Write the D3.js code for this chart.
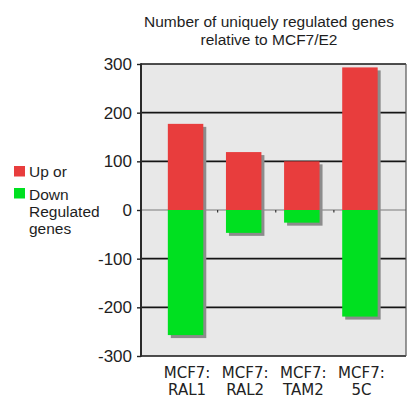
<!DOCTYPE html>
<html>
<head>
<meta charset="utf-8">
<script src="https://cdn.jsdelivr.net/npm/d3@7"></script>
<style>
  html, body { margin: 0; padding: 0; background: #ffffff; }
  svg { display: block; }
</style>
</head>
<body>
<svg id="chart" width="408" height="398"></svg>
<script>
// Gene counts per treatment relative to MCF7/E2
const categories = ["MCF7: RAL1", "MCF7: RAL2", "MCF7: TAM2", "MCF7: 5C"];
const upRegulated = [177, 119, 100, 293];
const downRegulated = [-257, -47, -26, -219];
const yTicks = [300, 200, 100, 0, -100, -200, -300];
const titleLines = ["Number of uniquely regulated genes", "relative to MCF7/E2"];
const legendItems = [
  { label: "Up or", color: "#e83d3d" },
  { label: "Down", color: "#00e020" }
];
const legendExtra = ["Regulated", "genes"];

const svg = d3.select("#chart");
const plot = { left: 141, right: 406, top: 64, bottom: 356 };

const y = d3.scaleLinear().domain([-300, 300]).range([plot.bottom, plot.top]);
const x = d3.scaleBand()
  .domain(categories)
  .range([156.5, 389])
  .paddingInner(0.39)
  .paddingOuter(0.195);

const shadow = 3;
const labelFont = "'Liberation Sans', Arial, sans-serif";

// plot background
svg.append("rect")
  .attr("x", plot.left).attr("y", plot.top)
  .attr("width", plot.right - plot.left).attr("height", plot.bottom - plot.top)
  .attr("fill", "#e8e8e8");

// horizontal grid lines
svg.append("g").selectAll("line")
  .data(yTicks.filter(d => d !== 0))
  .join("line")
  .attr("x1", plot.left).attr("x2", plot.right)
  .attr("y1", d => y(d)).attr("y2", d => y(d))
  .attr("stroke", "#151515").attr("stroke-width", 1.6);

// zero line
svg.append("line")
  .attr("x1", plot.left).attr("x2", plot.right)
  .attr("y1", y(0)).attr("y2", y(0))
  .attr("stroke", "#7a7a7a").attr("stroke-width", 1);

// bar shadows
svg.append("g").selectAll("rect")
  .data(categories)
  .join("rect")
  .attr("x", d => x(d) + shadow)
  .attr("y", (d, i) => y(upRegulated[i]) + shadow)
  .attr("width", x.bandwidth())
  .attr("height", (d, i) => y(downRegulated[i]) - y(upRegulated[i]))
  .attr("fill", "#8c8c8c");

// up-regulated bars
svg.append("g").selectAll("rect")
  .data(categories)
  .join("rect")
  .attr("x", d => x(d))
  .attr("y", (d, i) => y(upRegulated[i]))
  .attr("width", x.bandwidth())
  .attr("height", (d, i) => y(0) - y(upRegulated[i]))
  .attr("fill", legendItems[0].color);

// down-regulated bars
svg.append("g").selectAll("rect")
  .data(categories)
  .join("rect")
  .attr("x", d => x(d))
  .attr("y", y(0))
  .attr("width", x.bandwidth())
  .attr("height", (d, i) => y(downRegulated[i]) - y(0))
  .attr("fill", legendItems[1].color);

// small category ticks on the zero line
const gap = x.step() - x.bandwidth();
svg.append("g").selectAll("line")
  .data(categories.slice(0, -1))
  .join("line")
  .attr("x1", d => x(d) + x.bandwidth() + gap / 2 + shadow)
  .attr("x2", d => x(d) + x.bandwidth() + gap / 2 + shadow)
  .attr("y1", y(0)).attr("y2", y(0) + 2.5)
  .attr("stroke", "#333").attr("stroke-width", 1.2);

// plot frame: left axis and right edge
svg.append("line")
  .attr("x1", plot.left).attr("x2", plot.left)
  .attr("y1", plot.top - 0.8).attr("y2", plot.bottom + 0.8)
  .attr("stroke", "#2a2a2a").attr("stroke-width", 2);
svg.append("line")
  .attr("x1", plot.right).attr("x2", plot.right)
  .attr("y1", plot.top).attr("y2", plot.bottom)
  .attr("stroke", "#555").attr("stroke-width", 1.2);

// y axis ticks and labels (plain hyphen for negatives)
const yAxis = d3.axisLeft(y)
  .tickValues(yTicks)
  .tickFormat(d => String(d))
  .tickSize(4)
  .tickPadding(5);
const gy = svg.append("g").attr("transform", `translate(${plot.left},0)`).call(yAxis);
gy.select(".domain").remove();
gy.selectAll(".tick line").attr("stroke", "#222").attr("stroke-width", 1.4);
gy.selectAll(".tick text")
  .attr("font-family", labelFont)
  .attr("font-size", 17)
  .attr("fill", "#1e1e1e");

// category labels on two lines
const cat = svg.append("g").selectAll("text")
  .data(categories)
  .join("text")
  .attr("text-anchor", "middle")
  .attr("font-family", "'DejaVu Sans', Verdana, sans-serif")
  .attr("font-size", 15)
  .attr("fill", "#222");
cat.each(function(d) {
  const parts = d.split(" ");
  const cx = x(d) + x.bandwidth() / 2 + 1.5;
  d3.select(this).selectAll("tspan")
    .data(parts)
    .join("tspan")
    .attr("x", cx)
    .attr("y", (p, j) => 378 + j * 17)
    .text(p => p);
});

// title
svg.append("text")
  .attr("text-anchor", "middle")
  .attr("font-family", labelFont)
  .attr("font-size", 15.5)
  .attr("fill", "#1e1e1e")
  .selectAll("tspan")
  .data(titleLines)
  .join("tspan")
  .attr("x", 269)
  .attr("y", (d, i) => 27 + i * 18)
  .text(d => d);

// legend
const legend = svg.append("g");
legend.selectAll("rect")
  .data(legendItems)
  .join("rect")
  .attr("x", 14)
  .attr("y", (d, i) => 166 + i * 22)
  .attr("width", 11).attr("height", 10.5)
  .attr("fill", d => d.color);
legend.selectAll("text")
  .data(legendItems.map(d => d.label).concat(legendExtra))
  .join("text")
  .attr("x", 29)
  .attr("y", (d, i) => [176.7, 199.5, 217, 234][i])
  .attr("font-family", labelFont)
  .attr("font-size", 15.5)
  .attr("fill", "#1e1e1e")
  .text(d => d);
</script>
</body>
</html>
